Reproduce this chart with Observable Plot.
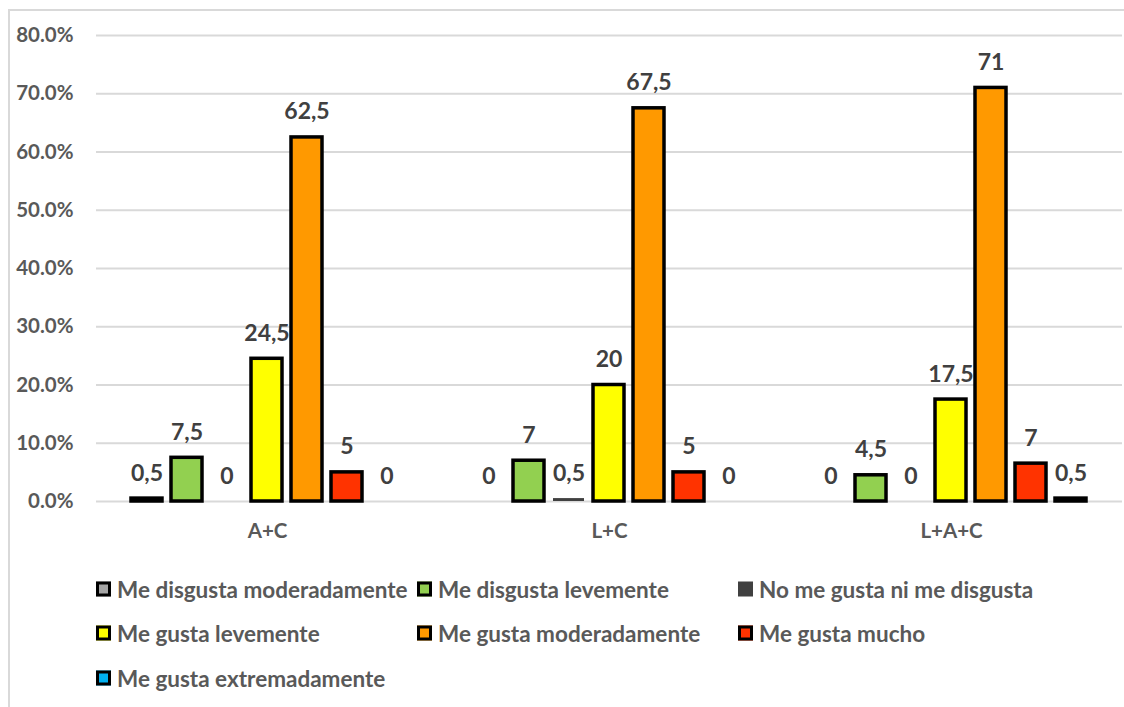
<!DOCTYPE html>
<html>
<head>
<meta charset="utf-8">
<script src="https://cdn.jsdelivr.net/npm/d3@7"></script>
<script src="https://cdn.jsdelivr.net/npm/@observablehq/plot@0.6"></script>
<style>
  html, body { margin: 0; padding: 0; background: #fff; }
  #wrap { position: relative; width: 1124px; height: 707px; overflow: hidden; font-family: Lato, sans-serif; }
  #border { position: absolute; left: 8px; top: 9px; width: 1140px; height: 720px; border: 2px solid #d9d9d9; box-sizing: border-box; }
  #plot { position: absolute; left: 0; top: 0; }
  .item { position: absolute; display: flex; align-items: center; font-weight: bold; font-size: 22.5px; color: #595959; white-space: nowrap; transform: translateY(-50%); }
  .sw { width: 15px; height: 15px; box-sizing: border-box; margin-right: 6px; }
</style>
</head>
<body>
<div id="wrap">
  <div id="border"></div>
  <div id="plot"></div>
  <div id="legend"></div>
</div>
<script>
const groups = ["A+C", "L+C", "L+A+C"];
const series = [
  "Me disgusta moderadamente",
  "Me disgusta levemente",
  "No me gusta ni me disgusta",
  "Me gusta levemente",
  "Me gusta moderadamente",
  "Me gusta mucho",
  "Me gusta extremadamente"
];
const colors = ["#a5a5a5", "#92d050", "#404040", "#ffff00", "#ff9900", "#ff3300", "#00b0f0"];
const outlined = [true, true, false, true, true, true, true];

const valuesAC  = [0.5, 7.5, 0,   24.5, 62.5, 5,   0];
const valuesLC  = [0,   7,   0.5, 20,   67.5, 5,   0];
const valuesLAC = [0,   4.5, 0,   17.5, 71,   6.5, 0.5];
const labelsAC  = ["0,5", "7,5", "0",   "24,5", "62,5", "5", "0"];
const labelsLC  = ["0",   "7",   "0,5", "20",   "67,5", "5", "0"];
const labelsLAC = ["0",   "4,5", "0",   "17,5", "71",   "7", "0,5"];
const yTicks = [0, 10, 20, 30, 40, 50, 60, 70, 80];

const valueSets = [valuesAC, valuesLC, valuesLAC];
const labelSets = [labelsAC, labelsLC, labelsLAC];
const data = [];
groups.forEach((g, gi) => {
  series.forEach((s, si) => {
    data.push({group: g, series: s, value: valueSets[gi][si], label: labelSets[gi][si], outlined: outlined[si]});
  });
});

const chart = Plot.plot({
  width: 1124,
  height: 555,
  marginLeft: 95,
  marginRight: 1,
  marginTop: 35,
  marginBottom: 54,
  style: {fontFamily: "Lato, sans-serif", fontWeight: "bold", fontSize: "20.5px", color: "#595959", background: "transparent"},
  fx: {domain: groups, padding: 0, axis: "bottom", tickSize: 0, tickPadding: 22, label: null},
  x: {domain: series, axis: null, paddingInner: 0.22, paddingOuter: 0.85},
  y: {domain: [0, 80], ticks: yTicks, tickFormat: d => d.toFixed(1) + "%", tickSize: 0, tickPadding: 23, label: null},
  color: {domain: series, range: colors},
  marks: [
    Plot.ruleY(yTicks, {stroke: "#d9d9d9", strokeWidth: 2}),
    Plot.barY(data.filter(d => d.value > 0 && d.outlined), {fx: "group", x: "series", y: "value", fill: "series", stroke: "black", strokeWidth: 3.5}),
    Plot.barY(data.filter(d => d.value > 0 && !d.outlined), {fx: "group", x: "series", y: "value", fill: "series"}),
    Plot.text(data, {fx: "group", x: "series", y: "value", text: "label", lineAnchor: "bottom", dy: -18, fill: "#404040", fontSize: 23, fontWeight: "bold"})
  ]
});
document.getElementById("plot").appendChild(chart);

const legend = document.getElementById("legend");
const colX = [96, 417, 738];
const rowY = [589, 633, 678];
series.forEach((s, i) => {
  const item = document.createElement("div");
  item.className = "item";
  item.style.left = colX[i % 3] + "px";
  item.style.top = rowY[Math.floor(i / 3)] + "px";
  const sw = document.createElement("div");
  sw.className = "sw";
  sw.style.background = colors[i];
  if (outlined[i]) sw.style.border = "3px solid #000";
  const t = document.createElement("span");
  t.textContent = s;
  item.appendChild(sw);
  item.appendChild(t);
  legend.appendChild(item);
});
</script>
</body>
</html>
